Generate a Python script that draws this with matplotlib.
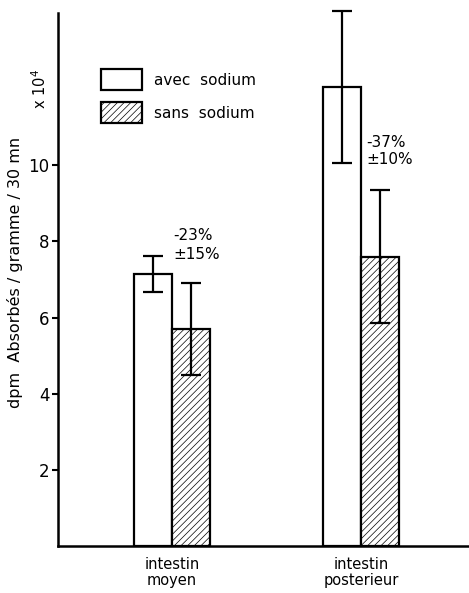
import numpy as np
import matplotlib.pyplot as plt

plt.rcParams['hatch.linewidth'] = 0.5
plt.rcParams['font.family'] = ['DejaVu Sans']

categories = ['intestin\nmoyen', 'intestin\nposterieur']
avec_vals = [7.15, 12.05]
avec_err = [0.47, 2.0]
sans_vals = [5.7, 7.6]
sans_err = [1.2, 1.75]
changes = ['-23%\n±15%', '-37%\n±10%']
yticks = [2, 4, 6, 8, 10]

fig = plt.figure(figsize=(4.69, 5.93), dpi=100)
ax = fig.add_axes([0.1237, 0.0793, 0.8763, 0.8987])

x = np.arange(len(categories))
w = 0.2
ekw = dict(elinewidth=1.6, capthick=1.6, capsize=7, ecolor='black')

b1 = ax.bar(x - w / 2, avec_vals, w, yerr=avec_err, color='white', edgecolor='black',
            linewidth=1.6, error_kw=ekw, label='avec  sodium')
b2 = ax.bar(x + w / 2, sans_vals, w, yerr=sans_err, color='white', edgecolor='black',
            linewidth=1.6, hatch='/////', error_kw=ekw, label='sans  sodium')
for bc in (b1, b2):
    for art in bc.errorbar.lines[1] + bc.errorbar.lines[2]:
        art.set_clip_on(False)

# percentage annotations
ax.text(x[0] + 0.005, 7.45, changes[0], ha='left', va='bottom', fontsize=11,
        linespacing=1.35)
ax.text(x[1] + 0.03, 9.95, changes[1], ha='left', va='bottom', fontsize=11,
        linespacing=1.15)

ax.set_xlim(-0.603, 1.571)
ax.set_ylim(0, 14)
ax.set_yticks(yticks)
ax.set_yticklabels([str(t) for t in yticks], fontsize=12)
ax.set_xticks(x)
ax.set_xticklabels(categories, fontsize=10.5, linespacing=1.1)
ax.tick_params(axis='x', length=0, pad=8)
ax.tick_params(axis='y', length=4, width=1.5, direction='out', pad=2)

for s in ['top', 'right']:
    ax.spines[s].set_visible(False)
for s in ['left', 'bottom']:
    ax.spines[s].set_linewidth(1.8)

fig.text(0.032, 0.54, 'dpm  Absorbés / gramme / 30 mn', rotation=90,
         ha='center', va='center', fontsize=11.5)
fig.text(0.085, 0.85, r'x 10$^4$', rotation=90, ha='center', va='center', fontsize=10.5)

leg = ax.legend(loc='upper left', bbox_to_anchor=(0.07, 0.92), frameon=False,
                fontsize=11, handlelength=2.7, handleheight=1.7,
                labelspacing=0.8, handletextpad=0.8)
for p in leg.get_patches():
    p.set_linewidth(1.6)

fig.savefig('out.png', dpi=100)
